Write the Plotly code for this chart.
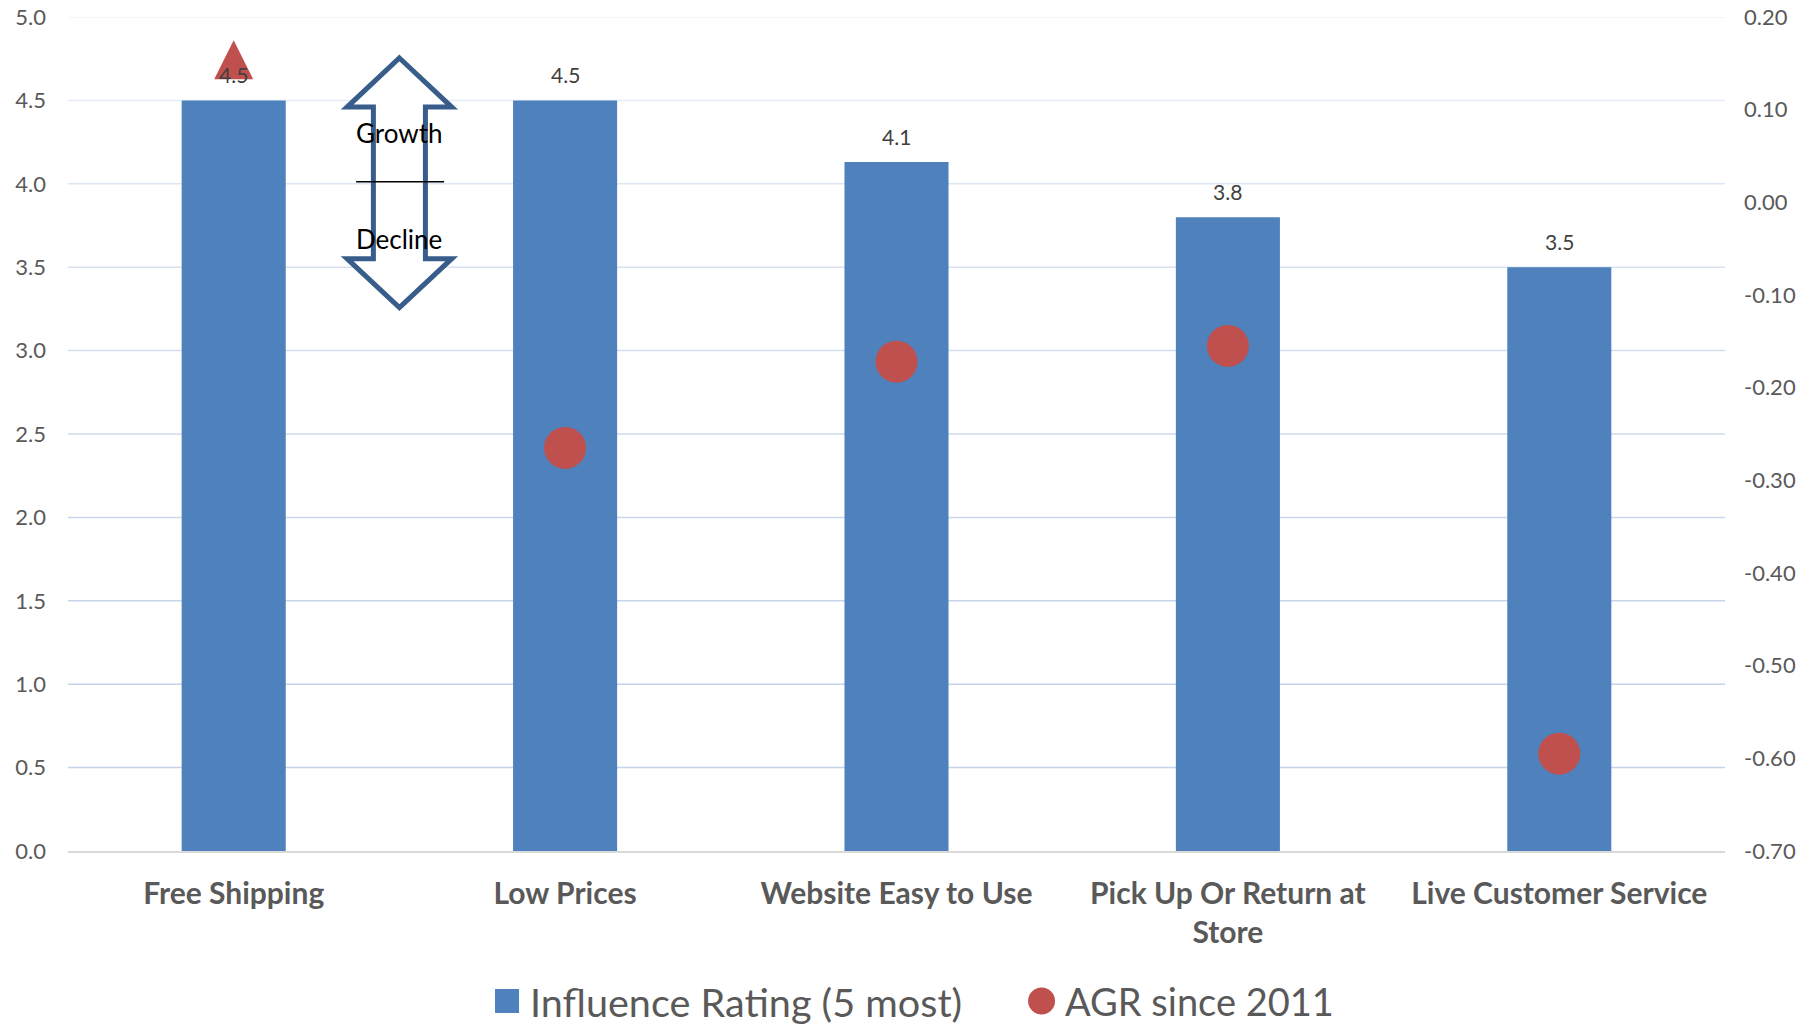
import plotly.graph_objects as go

# ---- data -------------------------------------------------------------
categories = ["Free Shipping", "Low Prices", "Website Easy to Use",
              "Pick Up Or Return at Store", "Live Customer Service"]
category_labels = ["Free Shipping", "Low Prices", "Website Easy to Use",
                   "Pick Up Or Return at<br>Store", "Live Customer Service"]
influence_rating = [4.5, 4.5, 4.13, 3.8, 3.5]             # left axis (5 = most)
agr_since_2011 = [0.175, -0.265, -0.172, -0.155, -0.595]  # right axis
agr_symbols = ["arrow-up", "circle", "circle", "circle", "circle"]
agr_sizes = [39, 42, 42, 42, 42]

rating_ticks = [0.0, 0.5, 1.0, 1.5, 2.0, 2.5, 3.0, 3.5, 4.0, 4.5, 5.0]
agr_ticks = [0.20, 0.10, 0.00, -0.10, -0.20, -0.30, -0.40, -0.50, -0.60, -0.70]
agr_tick_text = [f"{v:.2f}" for v in agr_ticks]

legend_items = ["Influence Rating (5 most)", "AGR since 2011"]

# ---- styling ----------------------------------------------------------
BAR_BLUE = "#4F81BD"
DOT_RED = "#C0504D"
ARROW_BLUE = "#385D8A"
TICK_GREY = "#595959"
LABEL_GREY = "#404040"
FONT = "Lato"

fig = go.Figure()

fig.add_trace(go.Bar(
    x=categories, y=influence_rating, name=legend_items[0],
    marker=dict(color=BAR_BLUE, line=dict(width=0)),
    showlegend=False, yaxis="y",
))

fig.add_trace(go.Scatter(
    x=categories, y=agr_since_2011, name=legend_items[1], mode="markers",
    marker=dict(color=DOT_RED, size=agr_sizes, symbol=agr_symbols,
                opacity=1, line=dict(width=0)),
    showlegend=False, yaxis="y2",
))

# value labels above the bars
for cat, val in zip(categories, influence_rating):
    fig.add_annotation(x=cat, y=val, xref="x", yref="y", text=f"{val:.1f}",
                       showarrow=False, yshift=26,
                       font=dict(family=FONT, size=21, color=LABEL_GREY))

# horizontal gridlines, fading towards the top
shapes = []
lo, hi = (196, 212, 234), (238, 242, 249)
for t in rating_ticks[1:]:
    f = ((t - 0.5) / 4.5) ** 2
    col = tuple(round(a + (b - a) * f) for a, b in zip(lo, hi))
    shapes.append(dict(type="line", xref="paper", yref="y", x0=0, x1=1,
                       y0=t, y1=t, layer="below",
                       line=dict(color=f"rgb{col}", width=1.5)))

# double-headed growth / decline arrow between the first two categories
cx, hh, sh = 0.2, 0.0316, 0.0157
top, base_t, base_b, bot = 0.9508, 0.892, 0.7102, 0.6516
arrow_path = (f"M{cx},{top} L{cx+hh},{base_t} L{cx+sh},{base_t} "
              f"L{cx+sh},{base_b} L{cx+hh},{base_b} L{cx},{bot} "
              f"L{cx-hh},{base_b} L{cx-sh},{base_b} L{cx-sh},{base_t} "
              f"L{cx-hh},{base_t} Z")
shapes.append(dict(type="path", xref="paper", yref="paper", path=arrow_path,
                   fillcolor="white", line=dict(color=ARROW_BLUE, width=5),
                   layer="above"))
shapes.append(dict(type="line", xref="paper", yref="paper", x0=0.1739,
                   x1=0.2270, y0=0.8025, y1=0.8025,
                   line=dict(color="black", width=1.5), layer="above"))

fig.add_annotation(x=cx, y=0.861, xref="paper", yref="paper", text="Growth",
                   showarrow=False, xanchor="center", yanchor="middle",
                   font=dict(family=FONT, size=26, color="black"))
fig.add_annotation(x=cx, y=0.734, xref="paper", yref="paper", text="Decline",
                   showarrow=False, xanchor="center", yanchor="middle",
                   font=dict(family=FONT, size=26, color="black"))

# legend drawn below the plot
shapes.append(dict(type="rect", xref="paper", yref="paper",
                   x0=0.2577, x1=0.2722, y0=-0.1655, y1=-0.1942,
                   fillcolor=BAR_BLUE, line=dict(width=0)))
shapes.append(dict(type="circle", xref="paper", yref="paper",
                   x0=0.5794, x1=0.5957, y0=-0.1637, y1=-0.1961,
                   fillcolor=DOT_RED, line=dict(width=0)))
fig.add_annotation(x=0.2776, y=-0.18, xref="paper", yref="paper",
                   text=legend_items[0], showarrow=False, xanchor="left",
                   yanchor="middle", font=dict(family=FONT, size=39.6, color=TICK_GREY))
fig.add_annotation(x=0.6005, y=-0.18, xref="paper", yref="paper",
                   text=legend_items[1], showarrow=False, xanchor="left",
                   yanchor="middle", font=dict(family=FONT, size=38, color=TICK_GREY))

fig.update_layout(
    width=1811, height=1024,
    margin=dict(l=68, r=86, t=17, b=173, autoexpand=False),
    paper_bgcolor="white", plot_bgcolor="white",
    bargap=0.686,
    showlegend=False,
    shapes=shapes,
    xaxis=dict(
        range=[-0.5, 4.5], tickvals=categories, ticktext=category_labels,
        tickfont=dict(family=FONT, size=30, color=TICK_GREY, weight="bold"),
        showgrid=False, zeroline=False, showline=True, automargin=False,
        linecolor="#D9D9D9", linewidth=2, ticks="", ticklabelstandoff=15,
    ),
    yaxis=dict(
        range=[0, 5], tickvals=rating_ticks, tickformat=".1f",
        tickfont=dict(family=FONT, size=22, color=TICK_GREY),
        showgrid=False, zeroline=False, showline=False, ticks="",
        ticklabelstandoff=21, automargin=False,
    ),
    yaxis2=dict(
        range=[-0.7, 0.2], overlaying="y", side="right",
        tickvals=agr_ticks, ticktext=agr_tick_text,
        tickfont=dict(family=FONT, size=22, color=TICK_GREY),
        showgrid=False, zeroline=False, showline=False, ticks="",
        ticklabelstandoff=18, automargin=False,
    ),
)

fig.write_html("out.html")
